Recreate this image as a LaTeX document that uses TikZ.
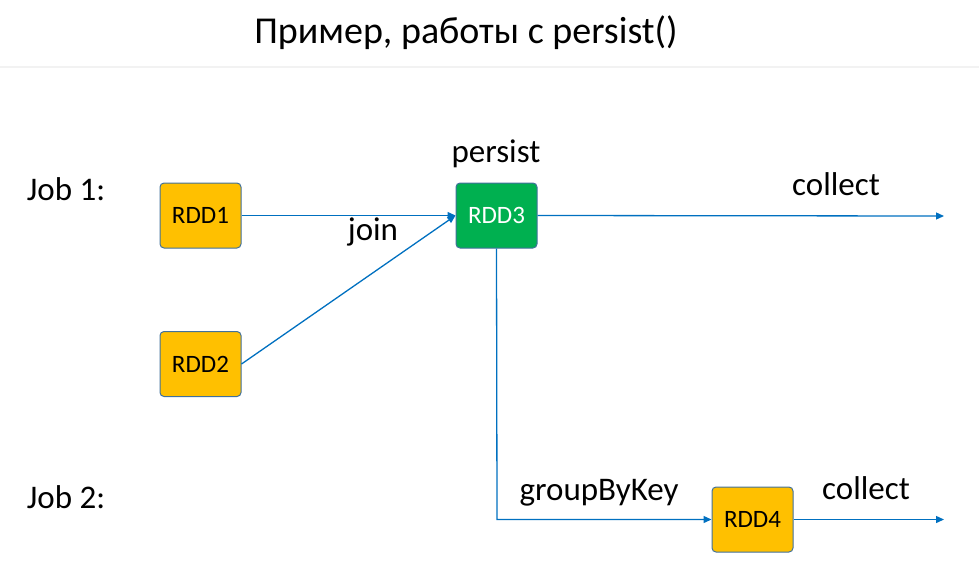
\documentclass[tikz,border=0pt]{standalone}
\usepackage{fontspec}
\setmainfont{Carlito}
\usetikzlibrary{arrows.meta}
\definecolor{rddyellow}{HTML}{FFC000}
\definecolor{rddgreen}{HTML}{00B050}
\definecolor{rddborder}{HTML}{41719C}
\definecolor{flow}{HTML}{0070C0}
\begin{document}
\begin{tikzpicture}[x=1pt,y=-1pt,
    rdd/.style={draw=rddborder,line width=1pt,rounded corners=4pt,fill=rddyellow,
      minimum width=81pt,minimum height=65pt,inner sep=0pt,font=\fontsize{25}{28}\selectfont},
    cached/.style={rdd,fill=rddgreen,text=white},
    lbl/.style={font=\fontsize{33}{38}\selectfont,inner sep=0pt},
    flowarrow/.style={draw=flow,line width=1.3pt,-{Triangle[length=8pt,width=7pt]}}]
  \useasboundingbox (0,0) rectangle (979,563);
  \node[font=\fontsize{38}{42}\selectfont] (title) at (466,33) {Пример, работы с persist()};
  \draw[black!5,line width=1.5pt] (0,67) -- (979,67);
  % job labels
  \node[lbl] (job1) at (66,189) {Job 1:};
  \node[lbl] (job2) at (66,497) {Job 2:};
  % rdds
  \node[rdd] (rdd1) at (200.5,215.5) {RDD1};
  \node[rdd] (rdd2) at (200.5,364) {RDD2};
  \node[cached] (rdd3) at (496.5,215.5) {RDD3};
  \node[rdd] (rdd4) at (752.5,519.5) {RDD4};
  \coordinate (out1) at (944,216);
  \coordinate (out2) at (944,519.5);
  \coordinate (bend) at (497,519.5);
  % edges
  \draw[flowarrow] (rdd1.east) -- (rdd3.west);
  \draw[flowarrow] (rdd2.east) -- (rdd3.west);
  \draw[flowarrow] (rdd3.east) -- (out1);
  \draw[flowarrow] (rdd3.south) -- (bend) -- (rdd4.west);
  \draw[flowarrow] (rdd4.east) -- (out2);
  % operation labels
  \node[lbl] (persist) at (496,154) {persist};
  \node[lbl] (join) at (373,232) {join};
  \node[lbl] (collect1) at (836,184) {collect};
  \node[lbl] (groupby) at (599,493) {groupByKey};
  \node[lbl] (collect2) at (866,488) {collect};
\end{tikzpicture}
\end{document}
